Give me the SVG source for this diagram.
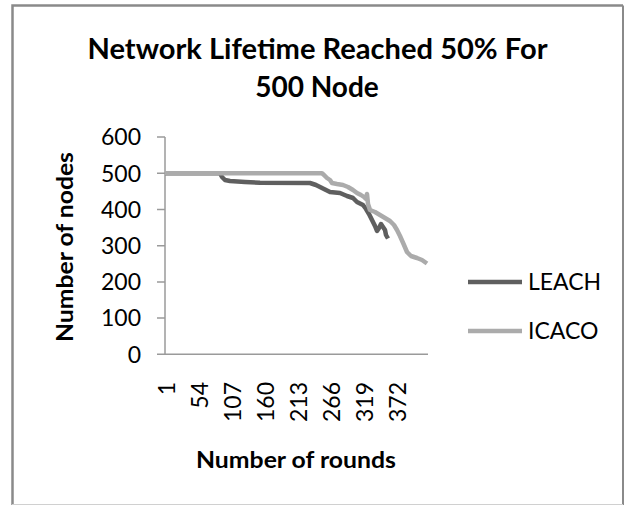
<svg xmlns="http://www.w3.org/2000/svg" width="628" height="506" viewBox="0 0 628 506">
  <style>
    .title { font-family: Lato, "Liberation Sans", sans-serif; font-weight: bold; font-size: 28px; fill: #000; }
    .axt { font-family: Lato, "Liberation Sans", sans-serif; font-weight: bold; font-size: 23px; fill: #000; }
    .tick { font-family: Lato, "Liberation Sans", sans-serif; font-size: 23px; fill: #000; }
    .axis { stroke: #9a9a9a; stroke-width: 1.5; fill: none; }
    .series { fill: none; stroke-width: 4.5; stroke-linejoin: round; stroke-linecap: butt; }
    .leach { stroke: #5f5f5f; }
    .icaco { stroke: #ababab; }
  </style>

  <rect x="0" y="0" width="628" height="506" fill="#fff"/>
  <!-- chart frame -->
  <path d="M12.5,505 V5.5 H623" fill="none" stroke="#8a8a8a" stroke-width="2.5"/>
  <path d="M623,5.5 V505" fill="none" stroke="#8a8a8a" stroke-width="2"/>
  <line x1="12" y1="504.5" x2="623" y2="504.5" stroke="#d0d0d0" stroke-width="1"/>

  <!-- title -->
  <g id="title">
    <text class="title" x="317.5" y="59" text-anchor="middle" textLength="460" lengthAdjust="spacingAndGlyphs">Network Lifetime Reached 50% For</text>
    <text class="title" x="317" y="97" text-anchor="middle">500 Node</text>
  </g>

  <!-- axes -->
  <g id="axes">
    <path class="axis" d="M165,137.1 V354.3 M157,354.3 H428"/>
    <path class="axis" d="M157,137.1 H165 M157,173.3 H165 M157,209.5 H165 M157,245.7 H165 M157,281.9 H165 M157,318.1 H165"/>
    <g class="tick" text-anchor="end">
      <text x="141" y="145.4">600</text>
      <text x="141" y="181.6">500</text>
      <text x="141" y="217.8">400</text>
      <text x="141" y="254">300</text>
      <text x="141" y="290.2">200</text>
      <text x="141" y="326.4">100</text>
      <text x="141" y="362.6">0</text>
    </g>
    <g class="tick" text-anchor="end">
      <text transform="translate(175,382) rotate(-90)">1</text>
      <text transform="translate(208,382) rotate(-90)">54</text>
      <text transform="translate(241,382) rotate(-90)">107</text>
      <text transform="translate(274,382) rotate(-90)">160</text>
      <text transform="translate(306.5,382) rotate(-90)">213</text>
      <text transform="translate(339.5,382) rotate(-90)">266</text>
      <text transform="translate(372.5,382) rotate(-90)">319</text>
      <text transform="translate(405.5,382) rotate(-90)">372</text>
    </g>
    <text class="axt" transform="translate(73,247) rotate(-90)" text-anchor="middle" textLength="190" lengthAdjust="spacingAndGlyphs">Number of nodes</text>
    <text class="axt" x="296" y="468" text-anchor="middle" textLength="200" lengthAdjust="spacingAndGlyphs">Number of rounds</text>
  </g>

  <!-- data series -->
  <g id="connectors">
    <path id="leach-line" class="series leach" d="M165,173.3 H220 L222,177 L225,180 L230,181 L245,182 L260,182.7 L310,183 L316,185 L320,187 L325,189.5 L330,192 L340,193 L347,196 L353,198 L357,202 L363,205 L366,209 L369,214 L372,220 L375,226 L377,231 L379,228 L381,224 L383,227 L385,230 L386,235 L388,238.5"/>
    <path id="icaco-line" class="series icaco" d="M165,173.3 H322 L324,175 L327,178 L330,180 L332,183 L337,184 L343,185 L348,187 L353,190 L357,193 L361,195 L364,197 L366,199 L367,194 L368,204 L370,210 L375,212 L380,215 L385,218 L390,221 L394,225 L397,230 L400,236 L404,245 L407,252 L411,256 L417,258 L422,260 L427,263.5"/>
  </g>

  <!-- legend -->
  <g id="legend">
    <g id="legend-leach">
      <line class="series leach" x1="468" y1="282" x2="522" y2="282"/>
      <text class="tick" x="528" y="290.3">LEACH</text>
    </g>
    <g id="legend-icaco">
      <line class="series icaco" x1="468" y1="331" x2="522" y2="331"/>
      <text class="tick" x="528" y="339.3">ICACO</text>
    </g>
  </g>
</svg>
